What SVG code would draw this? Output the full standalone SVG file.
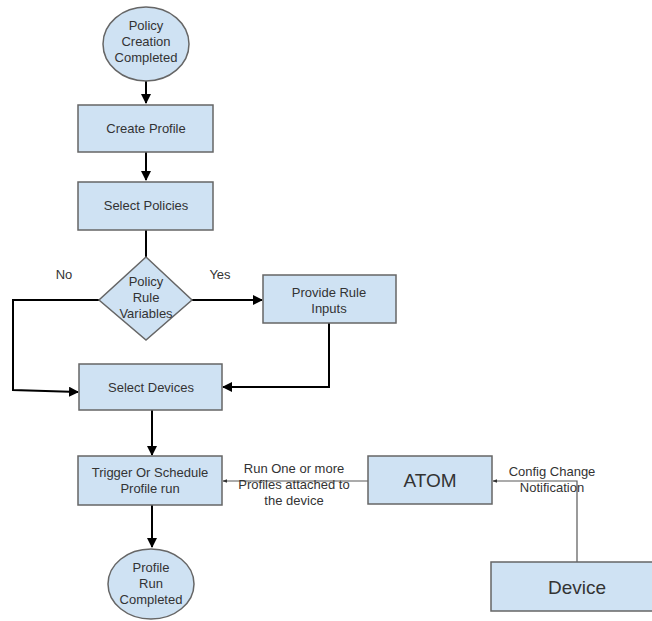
<svg xmlns="http://www.w3.org/2000/svg" width="652" height="621" viewBox="0 0 652 621">
  <style>
    .shape { fill: #cfe2f3; stroke: #666666; stroke-width: 1.5; }
    .t { font-family: "Liberation Sans", Arial, sans-serif; font-size: 13px; fill: #333333; text-anchor: middle; }
    .big { font-size: 19px; }
    .flow { fill: none; stroke: #000000; stroke-width: 2; }
    .thin { fill: none; stroke: #595959; stroke-width: 1.2; }
  </style>
  <defs>
    <marker id="arrow" viewBox="0 0 10 10" refX="9" refY="5" markerWidth="5" markerHeight="5" orient="auto" markerUnits="strokeWidth">
      <path d="M0,0 L10,5 L0,10 z" fill="#000000"/>
    </marker>
    <marker id="dot" viewBox="0 0 10 10" refX="9" refY="5" markerWidth="4" markerHeight="4" orient="auto" markerUnits="strokeWidth">
      <path d="M0,1 L10,5 L0,9 z" fill="#333333"/>
    </marker>
  </defs>

  <rect width="652" height="621" fill="#ffffff"/>

  <!-- connectors -->
  <g id="connectors">
    <path class="flow" d="M146,81 L146,103" marker-end="url(#arrow)"/>
    <path class="flow" d="M146,152 L146,180" marker-end="url(#arrow)"/>
    <path class="flow" d="M146,230 L146,257"/>
    <path class="flow" d="M192,300 L262,300" marker-end="url(#arrow)"/>
    <path class="flow" d="M329,323 L329,387 L223,387" marker-end="url(#arrow)"/>
    <path class="flow" d="M99,300 L13,300 L13,390 L78,392" marker-end="url(#arrow)"/>
    <path class="flow" d="M152,410 L152,455" marker-end="url(#arrow)"/>
    <path class="flow" d="M152,505 L152,547" marker-end="url(#arrow)"/>
    <path class="thin" d="M368,481 L223,481" marker-end="url(#dot)"/>
    <path class="thin" d="M577,562 L577,481 L493,481" marker-end="url(#dot)"/>
    <text class="t" x="64" y="279">No</text>
    <text class="t" x="220" y="279">Yes</text>
    <text class="t" x="294" y="473">Run One or more</text>
    <text class="t" x="294" y="489">Profiles attached to</text>
    <text class="t" x="294" y="505">the device</text>
    <text class="t" x="552" y="476">Config Change</text>
    <text class="t" x="552" y="492">Notification</text>
  </g>

  <g id="policy-creation-completed">
    <ellipse class="shape" cx="146" cy="44" rx="43" ry="37"/>
    <text class="t" x="146" y="30">Policy</text>
    <text class="t" x="146" y="46">Creation</text>
    <text class="t" x="146" y="62">Completed</text>
  </g>

  <g id="create-profile">
    <rect class="shape" x="78" y="105" width="135" height="47"/>
    <text class="t" x="146" y="133">Create Profile</text>
  </g>

  <g id="select-policies">
    <rect class="shape" x="78" y="182" width="135" height="48"/>
    <text class="t" x="146" y="210">Select Policies</text>
  </g>

  <g id="policy-rule-variables">
    <polygon class="shape" points="146,257 192,300 146,340 99,300"/>
    <text class="t" x="146" y="286">Policy</text>
    <text class="t" x="146" y="302">Rule</text>
    <text class="t" x="146" y="318">Variables</text>
  </g>

  <g id="provide-rule-inputs">
    <rect class="shape" x="263" y="275" width="133" height="48"/>
    <text class="t" x="329" y="297">Provide Rule</text>
    <text class="t" x="329" y="313">Inputs</text>
  </g>

  <g id="select-devices">
    <rect class="shape" x="79" y="364" width="143" height="46"/>
    <text class="t" x="151" y="392">Select Devices</text>
  </g>

  <g id="trigger-profile-run">
    <rect class="shape" x="78" y="456" width="144" height="49"/>
    <text class="t" x="150" y="477">Trigger Or Schedule</text>
    <text class="t" x="150" y="493">Profile run</text>
  </g>

  <g id="profile-run-completed">
    <ellipse class="shape" cx="151" cy="584" rx="43" ry="35"/>
    <text class="t" x="151" y="572">Profile</text>
    <text class="t" x="151" y="588">Run</text>
    <text class="t" x="151" y="604">Completed</text>
  </g>

  <g id="atom">
    <rect class="shape" x="368" y="456" width="124" height="48"/>
    <text class="t big" x="430" y="487">ATOM</text>
  </g>

  <g id="device">
    <rect class="shape" x="491" y="562" width="172" height="49"/>
    <text class="t big" x="577" y="594">Device</text>
  </g>
</svg>
